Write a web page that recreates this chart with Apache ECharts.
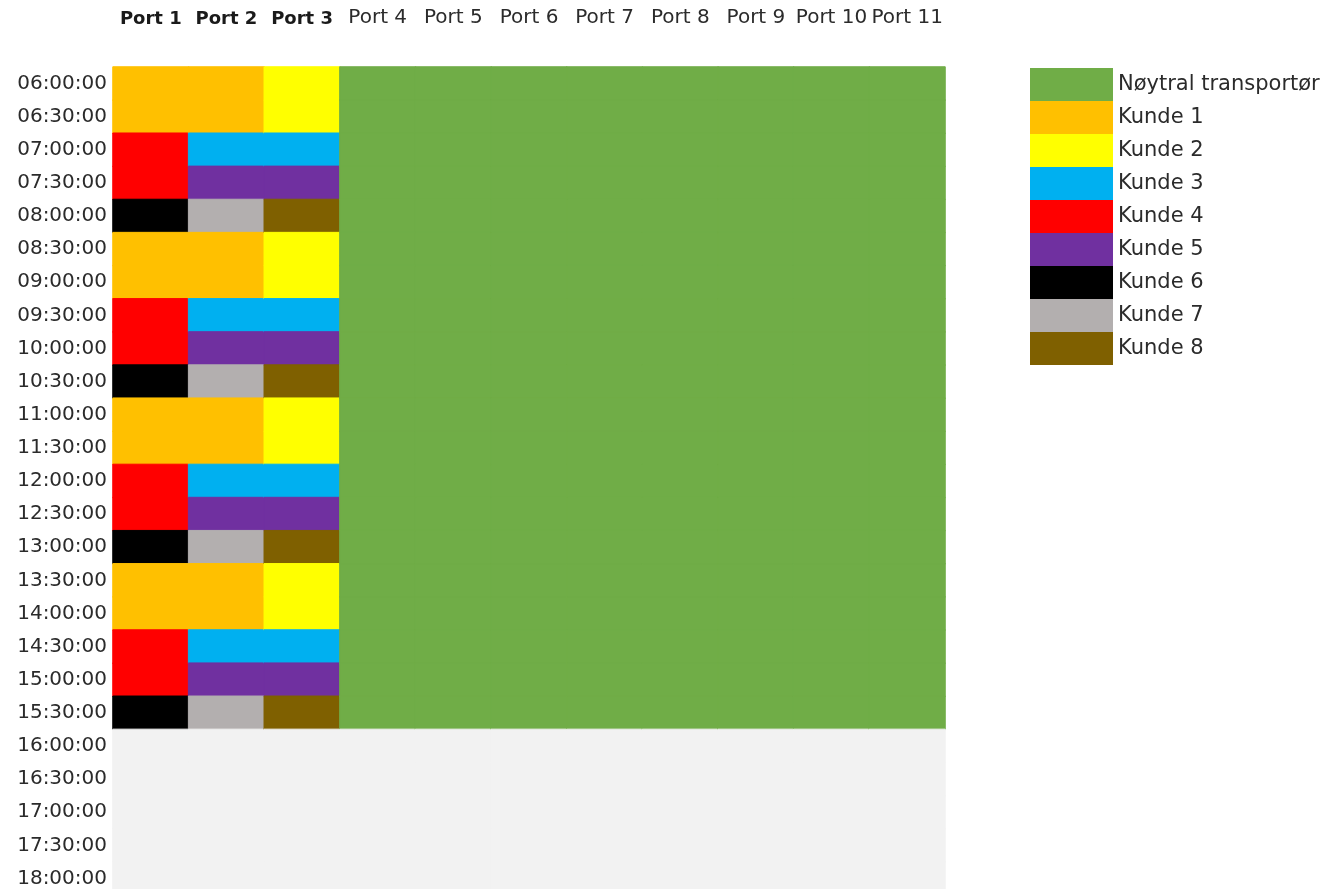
<!DOCTYPE html>
<html>
<head>
<meta charset="utf-8">
<script src="https://cdn.jsdelivr.net/npm/echarts@6/dist/echarts.min.js"></script>
<style>html,body{margin:0;padding:0;background:#fff;}#c{width:1326px;height:889px;}</style>
</head>
<body>
<div id="c"></div>
<script>
const ports = ['Port 1','Port 2','Port 3','Port 4','Port 5','Port 6','Port 7','Port 8','Port 9','Port 10','Port 11'];
const boldPorts = 3;
const times = ['06:00:00','06:30:00','07:00:00','07:30:00','08:00:00','08:30:00','09:00:00','09:30:00','10:00:00','10:30:00',
  '11:00:00','11:30:00','12:00:00','12:30:00','13:00:00','13:30:00','14:00:00','14:30:00','15:00:00','15:30:00',
  '16:00:00','16:30:00','17:00:00','17:30:00','18:00:00'];
const categoryNames = ['Nøytral transportør','Kunde 1','Kunde 2','Kunde 3','Kunde 4','Kunde 5','Kunde 6','Kunde 7','Kunde 8'];
const categoryColors = ['#70ad47','#ffc000','#ffff00','#00b0f0','#ff0000','#7030a0','#000000','#b3afaf','#7f6000'];
const emptyColor = '#f2f2f2';
// cell values per port: 0 = Nøytral transportør, 1..8 = Kunde n, -1 = empty
const port1 = [1,1,4,4,6, 1,1,4,4,6, 1,1,4,4,6, 1,1,4,4,6, -1,-1,-1,-1,-1];
const port2 = [1,1,3,5,7, 1,1,3,5,7, 1,1,3,5,7, 1,1,3,5,7, -1,-1,-1,-1,-1];
const port3 = [2,2,3,5,8, 2,2,3,5,8, 2,2,3,5,8, 2,2,3,5,8, -1,-1,-1,-1,-1];
const neutralPort = [0,0,0,0,0, 0,0,0,0,0, 0,0,0,0,0, 0,0,0,0,0, -1,-1,-1,-1,-1];
const portColumns = [port1, port2, port3, neutralPort, neutralPort, neutralPort, neutralPort, neutralPort, neutralPort, neutralPort, neutralPort];

const data = [];
portColumns.forEach((col, x) => col.forEach((v, y) => data.push({
  value: [x, y, v],
  itemStyle: {borderWidth: 1, borderColor: v >= 0 ? categoryColors[v] : emptyColor}
})));

const FONT = 'DejaVu Sans';
const chart = echarts.init(document.getElementById('c'), null, {renderer: 'canvas'});
chart.setOption({
  animation: false,
  backgroundColor: '#ffffff',
  grid: {left: 113, top: 67, width: 832, height: 828, containLabel: false, outerBoundsMode: 'none'},
  xAxis: {
    type: 'category', data: ports, position: 'top',
    axisLine: {show: false}, axisTick: {show: false}, splitLine: {show: false},
    axisLabel: {
      interval: 0, margin: 39,
      formatter: (v, i) => i < boldPorts ? '{b|' + v + '}' : '{n|' + v + '}',
      rich: {
        b: {fontFamily: FONT, fontSize: 18, fontWeight: 'bold', color: '#1a1a1a'},
        n: {fontFamily: FONT, fontSize: 20, color: '#2b2b2b'}
      }
    }
  },
  yAxis: {
    type: 'category', data: times, inverse: true,
    axisLine: {show: false}, axisTick: {show: false}, splitLine: {show: false},
    axisLabel: {interval: 0, margin: 6, fontFamily: FONT, fontSize: 20, color: '#2b2b2b'}
  },
  visualMap: {
    type: 'piecewise', dimension: 2, inverse: true,
    orient: 'vertical', left: 1030, top: 68, align: 'left', padding: 0,
    itemWidth: 83, itemHeight: 33, itemGap: 0, itemSymbol: 'rect', textGap: 5,
    selectedMode: false, hoverLink: false,
    pieces: categoryNames.map((n, i) => ({value: i, label: n, color: categoryColors[i]})),
    outOfRange: {color: emptyColor},
    textStyle: {fontFamily: FONT, fontSize: 21, color: '#2b2b2b'}
  },
  series: [{
    type: 'heatmap', data: data,
    emphasis: {disabled: true},
    label: {show: false}
  }]
});
</script>
</body>
</html>
